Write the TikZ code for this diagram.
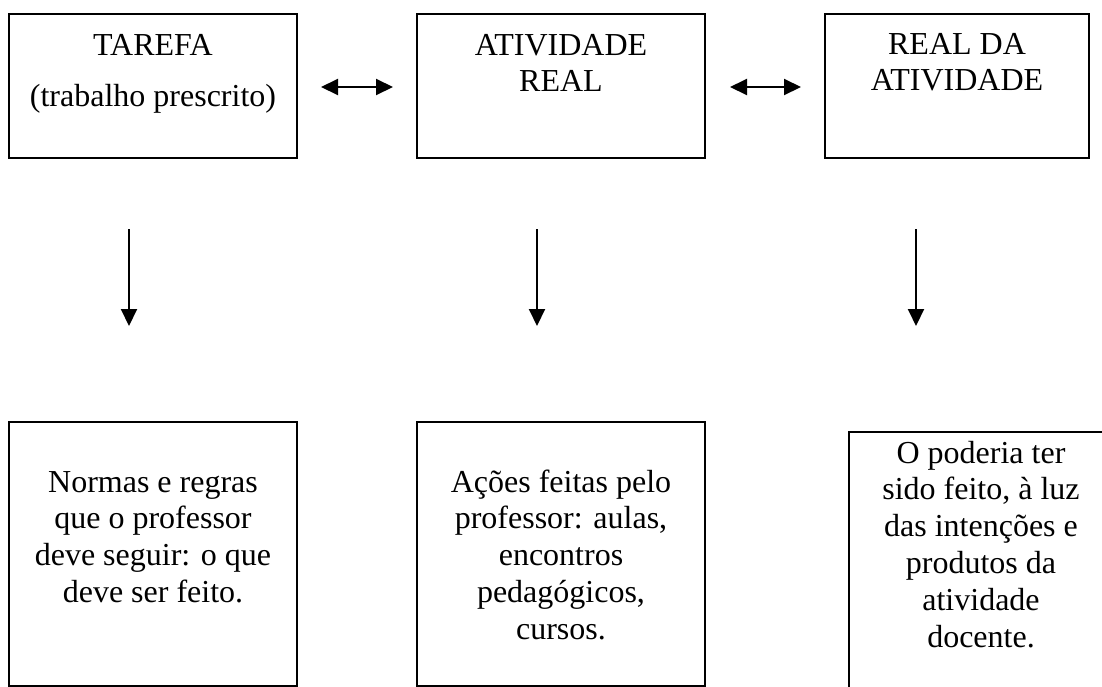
\documentclass[tikz,border=0pt]{standalone}
\usepackage{fontspec}
\setmainfont{Liberation Serif}
\usetikzlibrary{arrows.meta}
\begin{document}
\begin{tikzpicture}[x=1pt,y=-1pt,
  box/.style={draw, line width=2pt, inner sep=0pt, outer sep=0pt, anchor=north west},
  txt/.style={font=\fontsize{32}{36.8}\selectfont, align=center, inner sep=0pt, anchor=north},
  link/.style={line width=2pt, -{Triangle[length=17pt,width=16pt]}},
  both/.style={line width=2pt, {Triangle[length=17pt,width=16pt]}-{Triangle[length=17pt,width=16pt]}}]
\clip (0,0) rectangle (1102,686);
\fill[white] (0,0) rectangle (1102,686);
% top boxes
\node[box, minimum width=288pt, minimum height=144pt] (b1) at (9,14) {};
\node[box, minimum width=288pt, minimum height=144pt] (b2) at (417,14) {};
\node[box, minimum width=264pt, minimum height=144pt] (b3) at (825,14) {};
\node[txt] (t1) at (153,29.2) {\strut TAREFA\\[14.2pt](trabalho prescrito)};
\node[txt] (t2) at (561,29.2) {\strut ATIVIDADE\\REAL};
\node[txt] (t3) at (957,28.2) {\strut REAL DA\\ATIVIDADE};
% bottom boxes
\node[box, minimum width=288pt, minimum height=264pt] (c1) at (9,422) {};
\node[box, minimum width=288pt, minimum height=264pt] (c2) at (417,422) {};
\node[box, minimum width=264pt, minimum height=290pt] (c3) at (849,432) {};
\node[txt] (u1) at (153,466.2) {\strut Normas e regras\\que o professor\\deve seguir: o que\\deve ser feito.};
\node[txt] (u2) at (561,466.2) {\strut Ações feitas pelo\\professor: aulas,\\encontros\\pedagógicos,\\cursos.};
\node[txt] (u3) at (981,437.2) {\strut O poderia ter\\sido feito, à luz\\das intenções e\\produtos da\\atividade\\docente.};
% arrows
\coordinate (h1s) at (321,87); \coordinate (h1e) at (393,87);
\coordinate (h2s) at (730,87); \coordinate (h2e) at (801,87);
\coordinate (d1s) at (129,229); \coordinate (d1e) at (129,326);
\coordinate (d2s) at (537,229); \coordinate (d2e) at (537,326);
\coordinate (d3s) at (916,229); \coordinate (d3e) at (916,326);
\draw[both] (h1s) -- (h1e);
\draw[both] (h2s) -- (h2e);
\draw[link] (d1s) -- (d1e);
\draw[link] (d2s) -- (d2e);
\draw[link] (d3s) -- (d3e);
\end{tikzpicture}
\end{document}
